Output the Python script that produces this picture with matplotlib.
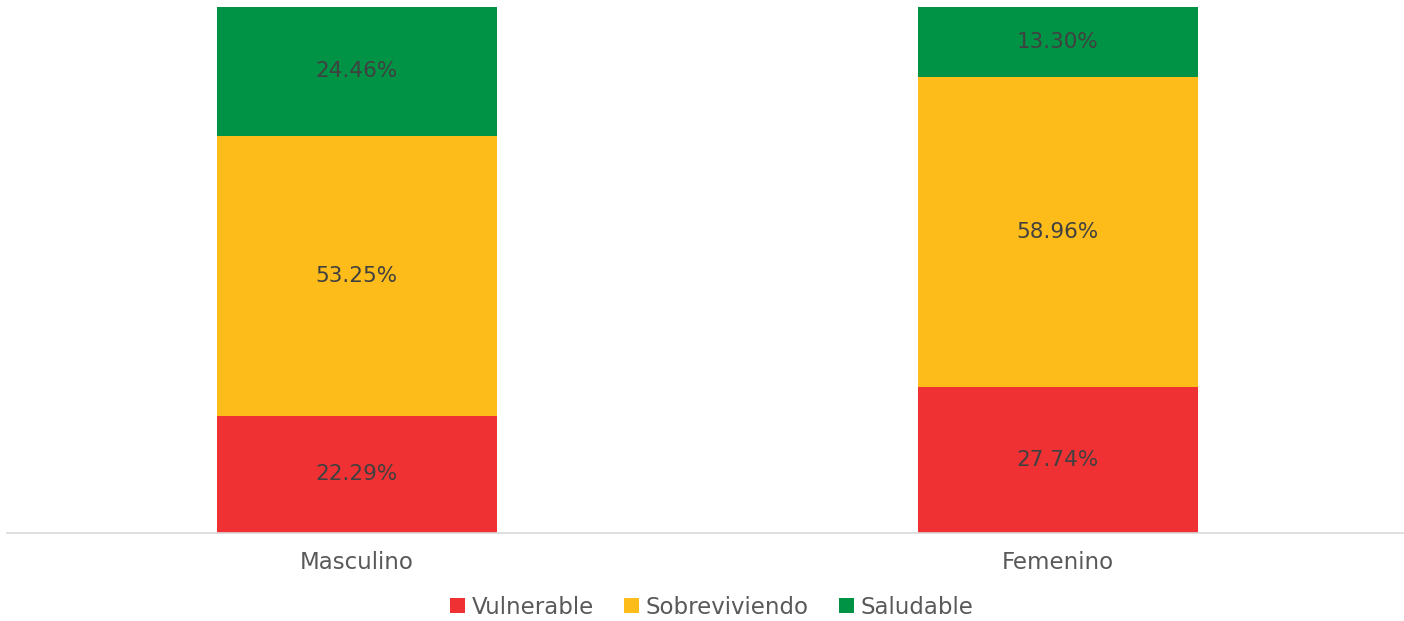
import numpy as np
import matplotlib.pyplot as plt

categories = ['Masculino', 'Femenino']
series_names = ['Vulnerable', 'Sobreviviendo', 'Saludable']
vulnerable = [22.29, 27.74]
sobreviviendo = [53.25, 58.96]
saludable = [24.46, 13.30]

colors = ['#EF3134', '#FDBC19', '#009245']

plt.rcParams['font.family'] = ['DejaVu Sans']

fig = plt.figure(figsize=(14.04, 6.21), dpi=100)
ax = fig.add_axes([7 / 1404, 88 / 621, 1397 / 1404, 526 / 621])

x = np.arange(len(categories))
bottom = np.zeros(len(categories))
for name, vals, col in zip(series_names, [vulnerable, sobreviviendo, saludable], colors):
    vals = np.array(vals)
    bars = ax.bar(x, vals, width=0.4, bottom=bottom, color=col, label=name)
    for xi, b, v in zip(x, bottom, vals):
        ax.text(xi, b + v / 2, f'{v:.2f}%', ha='center', va='center',
                fontsize=15.5, color='#404040')
    bottom += vals

ax.set_xlim(-0.499, 1.494)
ax.set_ylim(0, 100)
ax.set_yticks([])
ax.set_xticks(x)
ax.set_xticklabels(categories, fontsize=16.5, color='#595959')
ax.tick_params(axis='x', length=0, pad=13)
for side in ['top', 'right', 'left']:
    ax.spines[side].set_visible(False)
ax.spines['bottom'].set_color('#d9d9d9')
ax.spines['bottom'].set_linewidth(1.2)

leg = fig.legend(loc='center', bbox_to_anchor=(0.507, 1 - 607 / 621), ncol=3,
                 frameon=False, fontsize=16.5, handlelength=0.65, handleheight=0.65,
                 handletextpad=0.3, columnspacing=1.3)
for t in leg.get_texts():
    t.set_color('#595959')

fig.savefig('out.png', dpi=100)
